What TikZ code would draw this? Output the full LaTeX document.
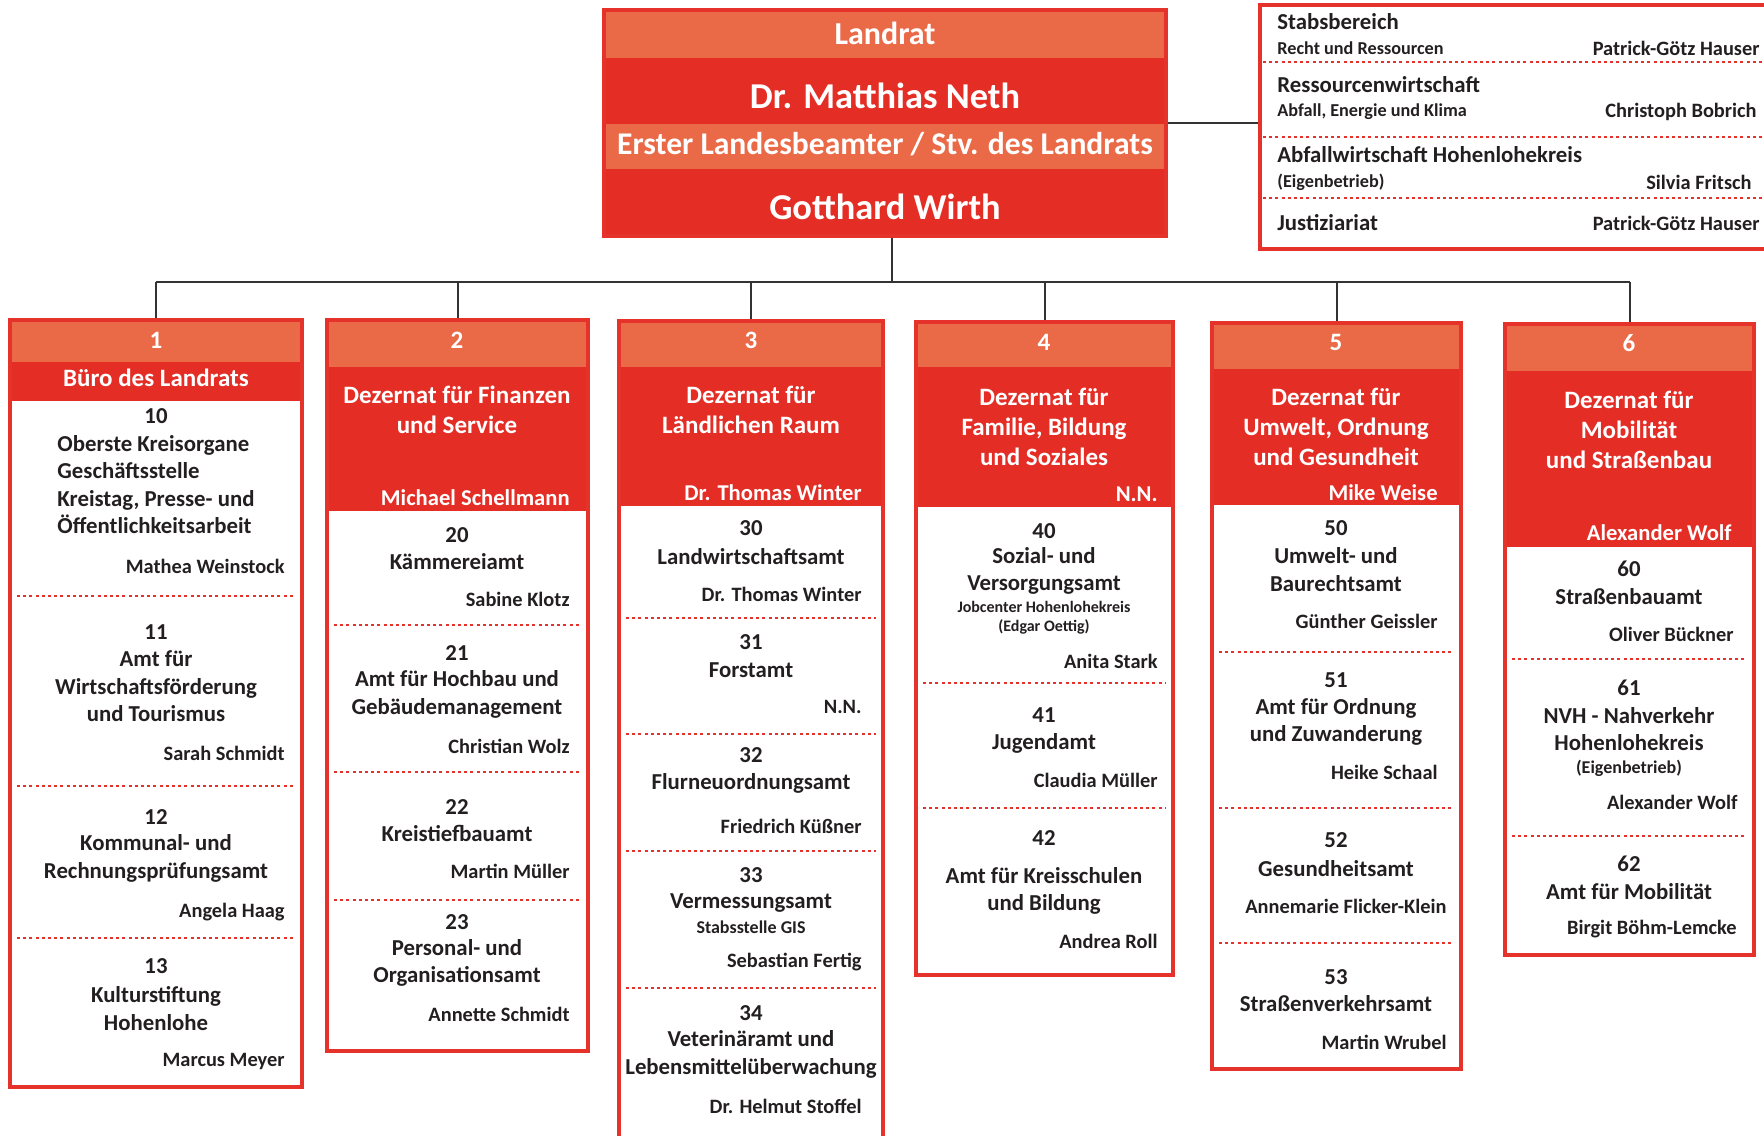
\documentclass[tikz,border=0pt]{standalone}
\usepackage{fontspec}
\setmainfont{Carlito}
\usepackage{tikz}
\usetikzlibrary{positioning, fit, calc}
\definecolor{orangedoux}{RGB}{234,106,72}
\definecolor{rotkraeftig}{RGB}{227,45,37}
\definecolor{rahmenrot}{RGB}{229,50,42}
\definecolor{schwarzweich}{RGB}{35,31,32}

\begin{document}
\begin{tikzpicture}[x=0.5pt, y=-0.5pt,
    kasten/.style={draw=rahmenrot, line width=1.7pt, inner sep=0pt},
    kopf/.style={fill=orangedoux, inner sep=0pt},
    band/.style={fill=rotkraeftig, inner sep=0pt},
    nummer/.style={text=white, inner sep=0pt, font=\bfseries\fontsize{12.5}{15}\selectfont},
    titel/.style={text=white, align=center, inner sep=0pt, font=\bfseries\fontsize{12.5}{15}\selectfont},
    chef/.style={text=white, anchor=east, inner sep=0pt, font=\bfseries\fontsize{11.3}{13.75}\selectfont},
    amtnr/.style={text=schwarzweich, inner sep=0pt, font=\bfseries\fontsize{11.4}{13.75}\selectfont},
    amt/.style={text=schwarzweich, align=center, inner sep=0pt, font=\bfseries\fontsize{11.4}{13.75}\selectfont},
    klein/.style={text=schwarzweich, align=center, inner sep=0pt, font=\bfseries\fontsize{8}{9.5}\selectfont},
    leiter/.style={text=schwarzweich, anchor=east, inner sep=0pt, font=\bfseries\fontsize{10.2}{12}\selectfont},
    stabtitel/.style={text=schwarzweich, anchor=west, inner sep=0pt, font=\bfseries\fontsize{11.4}{13}\selectfont},
    stabzusatz/.style={text=schwarzweich, anchor=west, inner sep=0pt, font=\bfseries\fontsize{9.1}{11}\selectfont},
    stabname/.style={text=schwarzweich, anchor=east, inner sep=0pt, font=\bfseries\fontsize{10.2}{12}\selectfont},
    trenner/.style={draw=rahmenrot, line width=1.4pt, dash pattern=on 1.5pt off 1.6pt},
    verbinder/.style={draw=black!80, line width=1pt}]
    \useasboundingbox (0,0) rectangle (1764,1135);

    % Landrat und Erster Landesbeamter
    \node[kopf, fit={(604,10) (1166,58)}] (lr1) {};
    \node[band, fit={(604,58) (1166,124)}] (lr2) {};
    \node[kopf, fit={(604,124) (1166,169)}] (lr3) {};
    \node[band, fit={(604,169) (1166,236)}] (lr4) {};
    \node[text=white, inner sep=0pt, font=\bfseries\fontsize{16}{18}\selectfont] (landrattext) at (885,33) {Landrat};
    \node[text=white, inner sep=0pt, font=\bfseries\fontsize{18.2}{20}\selectfont] (neth) at (885,96) {Dr. Matthias Neth};
    \node[text=white, inner sep=0pt, font=\bfseries\fontsize{15.8}{18}\selectfont] (erster) at (885,144) {Erster Landesbeamter / Stv. des Landrats};
    \node[text=white, inner sep=0pt, font=\bfseries\fontsize{18.2}{20}\selectfont] (wirth) at (885,207) {Gotthard Wirth};
    \node[kasten, fit={(604,10) (1166,236)}] (landrat) {};

    % Stabsbereich rechts oben
    \node[stabtitel] (st1) at (1277,22) {Stabsbereich};
    \node[stabzusatz] (st1z) at (1277,48) {Recht und Ressourcen};
    \node[stabname] (st1n) at (1760,48) {Patrick-Götz Hauser};
    \draw[trenner] (1263,62) -- (1764,62);
    \node[stabtitel] (st2) at (1277,85) {Ressourcenwirtschaft};
    \node[stabzusatz] (st2z) at (1277,112) {Abfall, Energie und Klima};
    \node[stabname] (st2n) at (1757,112) {Christoph Bobrich};
    \draw[trenner] (1263,137) -- (1764,137);
    \node[stabtitel] (st3) at (1277,155) {Abfallwirtschaft Hohenlohekreis};
    \node[stabzusatz] (st3z) at (1277,182) {(Eigenbetrieb)};
    \node[stabname] (st3n) at (1752,182) {Silvia Fritsch};
    \draw[trenner] (1263,198) -- (1764,198);
    \node[stabtitel] (st4) at (1277,223) {Justiziariat};
    \node[stabname] (st4n) at (1760,223) {Patrick-Götz Hauser};
    \node[kasten, fit={(1260,5) (1790,249)}] (stab) {};

    % Spalte 1 : Büro des Landrats
    \node[kopf, fit={(10,320) (302,362)}] (kopf1) {};
    \node[band, fit={(10,362) (302,401)}] (band1) {};
    \node[nummer] (nr1) at (156,340) {1};
    \node[titel] (titel1) at (156,378) {Büro des Landrats};
    \node[amtnr] (a10) at (156,416) {10};
    \node[amt, align=left] (a10t) at (156,484.5) {Oberste Kreisorgane\\Geschäftsstelle\\Kreistag, Presse- und\\Öffentlichkeitsarbeit};
    \node[leiter] (l10) at (285,566) {Mathea Weinstock};
    \draw[trenner] (17,596) -- (295,596);
    \node[amtnr] (a11) at (156,632) {11};
    \node[amt] (a11t) at (156,686.5) {Amt für\\Wirtschaftsförderung\\und Tourismus};
    \node[leiter] (l11) at (285,753) {Sarah Schmidt};
    \draw[trenner] (17,786) -- (295,786);
    \node[amtnr] (a12) at (156,817) {12};
    \node[amt] (a12t) at (156,858.5) {Kommunal- und\\Rechnungsprüfungsamt};
    \node[leiter] (l12) at (285,912) {Angela Haag};
    \draw[trenner] (17,938) -- (295,938);
    \node[amtnr] (a13) at (156,966) {13};
    \node[amt] (a13t) at (156,1008.5) {Kulturstiftung\\Hohenlohe};
    \node[leiter] (l13) at (285,1061) {Marcus Meyer};
    \node[kasten, fit={(10,320) (302,1087)}] (k1) {};

    % Spalte 2 : Finanzen und Service
    \node[kopf, fit={(327,320) (588,367)}] (kopf2) {};
    \node[band, fit={(327,367) (588,511)}] (band2) {};
    \node[nummer] (nr2) at (457,340) {2};
    \node[titel] (titel2) at (457,410) {Dezernat für Finanzen\\und Service};
    \node[chef] (chef2) at (570,498) {Michael Schellmann};
    \node[amtnr] (a20) at (457,535) {20};
    \node[amt] (a20t) at (457,562) {Kämmereiamt};
    \node[leiter] (l20) at (570,599) {Sabine Klotz};
    \draw[trenner] (334,625) -- (581,625);
    \node[amtnr] (a21) at (457,653) {21};
    \node[amt] (a21t) at (457,694.5) {Amt für Hochbau und\\Gebäudemanagement};
    \node[leiter] (l21) at (570,746) {Christian Wolz};
    \draw[trenner] (334,772) -- (581,772);
    \node[amtnr] (a22) at (457,807) {22};
    \node[amt] (a22t) at (457,833) {Kreistiefbauamt};
    \node[leiter] (l22) at (570,871) {Martin Müller};
    \draw[trenner] (334,900) -- (581,900);
    \node[amtnr] (a23) at (457,922) {23};
    \node[amt] (a23t) at (457,963) {Personal- und\\Organisationsamt};
    \node[leiter] (l23) at (570,1014) {Annette Schmidt};
    \node[kasten, fit={(327,320) (588,1051)}] (k2) {};

    % Spalte 3 : Ländlicher Raum
    \node[kopf, fit={(619,321) (883,367)}] (kopf3) {};
    \node[band, fit={(619,367) (883,506)}] (band3) {};
    \node[nummer] (nr3) at (751,340) {3};
    \node[titel] (titel3) at (751,410) {Dezernat für\\Ländlichen Raum};
    \node[chef] (chef3) at (862,493) {Dr. Thomas Winter};
    \node[amtnr] (a30) at (751,528) {30};
    \node[amt] (a30t) at (751,557) {Landwirtschaftsamt};
    \node[leiter] (l30) at (862,594) {Dr. Thomas Winter};
    \draw[trenner] (626,618) -- (876,618);
    \node[amtnr] (a31) at (751,642) {31};
    \node[amt] (a31t) at (751,670) {Forstamt};
    \node[leiter] (l31) at (862,707) {N.N.};
    \draw[trenner] (626,734) -- (876,734);
    \node[amtnr] (a32) at (751,755) {32};
    \node[amt] (a32t) at (751,783) {Flurneuordnungsamt};
    \node[leiter] (l32) at (862,826) {Friedrich Küßner};
    \draw[trenner] (626,851) -- (876,851);
    \node[amtnr] (a33) at (751,875) {33};
    \node[amt] (a33t) at (751,903) {Vermessungsamt};
    \node[klein, font=\bfseries\fontsize{9}{11}\selectfont] (a33k) at (751,927) {Stabsstelle GIS};
    \node[leiter] (l33) at (862,962) {Sebastian Fertig};
    \draw[trenner] (626,988) -- (876,988);
    \node[amtnr] (a34) at (751,1013) {34};
    \node[amt] (a34t) at (751,1054.5) {Veterinäramt und\\Lebensmittelüberwachung};
    \node[leiter] (l34) at (862,1106) {Dr. Helmut Stoffel};
    \node[kasten, fit={(619,321) (883,1160)}] (k3) {};

    % Spalte 4 : Familie, Bildung und Soziales
    \node[kopf, fit={(916,322) (1173,367)}] (kopf4) {};
    \node[band, fit={(916,367) (1173,507)}] (band4) {};
    \node[nummer] (nr4) at (1044,342) {4};
    \node[titel] (titel4) at (1044,426.5) {Dezernat für\\Familie, Bildung\\und Soziales};
    \node[chef] (chef4) at (1158,494) {N.N.};
    \node[amtnr] (a40) at (1044,531) {40};
    \node[amt] (a40t) at (1044,571) {Sozial- und\\Versorgungsamt};
    \node[klein] (a40k) at (1044,617.5) {Jobcenter Hohenlohekreis\\(Edgar Oettig)};
    \node[leiter] (l40) at (1158,661) {Anita Stark};
    \draw[trenner] (923,683) -- (1166,683);
    \node[amtnr] (a41) at (1044,715) {41};
    \node[amt] (a41t) at (1044,743) {Jugendamt};
    \node[leiter] (l41) at (1158,780) {Claudia Müller};
    \draw[trenner] (923,808) -- (1166,808);
    \node[amtnr] (a42) at (1044,838) {42};
    \node[amt] (a42t) at (1044,891) {Amt für Kreisschulen\\und Bildung};
    \node[leiter] (l42) at (1158,941) {Andrea Roll};
    \node[kasten, fit={(916,322) (1173,975)}] (k4) {};

    % Spalte 5 : Umwelt, Ordnung und Gesundheit
    \node[kopf, fit={(1212,323) (1461,369)}] (kopf5) {};
    \node[band, fit={(1212,369) (1461,505)}] (band5) {};
    \node[nummer] (nr5) at (1336,342) {5};
    \node[titel] (titel5) at (1336,427) {Dezernat für\\Umwelt, Ordnung\\und Gesundheit};
    \node[chef] (chef5) at (1438,493) {Mike Weise};
    \node[amtnr] (a50) at (1336,528) {50};
    \node[amt] (a50t) at (1336,569.5) {Umwelt- und\\Baurechtsamt};
    \node[leiter] (l50) at (1438,621) {Günther Geissler};
    \draw[trenner] (1219,652) -- (1454,652);
    \node[amtnr] (a51) at (1336,680) {51};
    \node[amt] (a51t) at (1336,722) {Amt für Ordnung\\und Zuwanderung};
    \node[leiter] (l51) at (1438,772) {Heike Schaal};
    \draw[trenner] (1219,808) -- (1454,808);
    \node[amtnr] (a52) at (1336,840) {52};
    \node[amt] (a52t) at (1336,869) {Gesundheitsamt};
    \node[leiter] (l52) at (1447,906) {Annemarie Flicker-Klein};
    \draw[trenner] (1219,943) -- (1454,943);
    \node[amtnr] (a53) at (1336,977) {53};
    \node[amt] (a53t) at (1336,1004) {Straßenverkehrsamt};
    \node[leiter] (l53) at (1447,1042) {Martin Wrubel};
    \node[kasten, fit={(1212,323) (1461,1069)}] (k5) {};

    % Spalte 6 : Mobilität und Straßenbau
    \node[kopf, fit={(1505,324) (1754,371)}] (kopf6) {};
    \node[band, fit={(1505,371) (1754,547)}] (band6) {};
    \node[nummer] (nr6) at (1629,343) {6};
    \node[titel] (titel6) at (1629,429.5) {Dezernat für\\Mobilität\\und Straßenbau};
    \node[chef] (chef6) at (1732,533) {Alexander Wolf};
    \node[amtnr] (a60) at (1629,569) {60};
    \node[amt] (a60t) at (1629,597) {Straßenbauamt};
    \node[leiter] (l60) at (1734,634) {Oliver Bückner};
    \draw[trenner] (1512,659) -- (1747,659);
    \node[amtnr] (a61) at (1629,688) {61};
    \node[amt] (a61t) at (1629,729) {NVH - Nahverkehr\\Hohenlohekreis};
    \node[klein, font=\bfseries\fontsize{9}{11}\selectfont] (a61k) at (1629,768) {(Eigenbetrieb)};
    \node[leiter] (l61) at (1738,802) {Alexander Wolf};
    \draw[trenner] (1512,836) -- (1747,836);
    \node[amtnr] (a62) at (1629,864) {62};
    \node[amt] (a62t) at (1629,892) {Amt für Mobilität};
    \node[leiter] (l62) at (1737,929) {Birgit Böhm-Lemcke};
    \node[kasten, fit={(1505,324) (1754,955)}] (k6) {};

    % Verbindungslinien
    \coordinate (sammel) at (892,282);
    \draw[verbinder] (landrat.east) -- (landrat.east -| stab.west);
    \draw[verbinder] (landrat.south -| sammel) -- (sammel);
    \draw[verbinder] (sammel -| k1.north) -- (sammel -| k6.north);
    \foreach \k in {1,...,6}
        \draw[verbinder] (sammel -| k\k.north) -- (k\k.north);
\end{tikzpicture}
\end{document}
